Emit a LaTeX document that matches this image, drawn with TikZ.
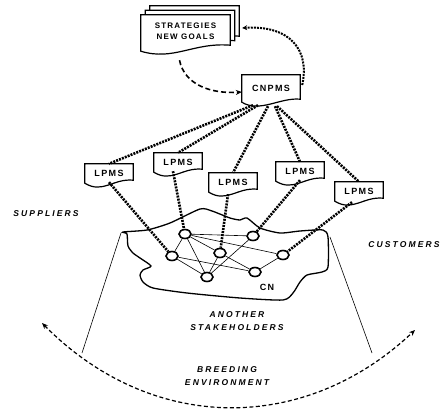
\documentclass[tikz,border=0pt]{standalone}
\usepackage{fontspec}
\usetikzlibrary{arrows.meta,shapes.geometric,backgrounds}
\newfontfamily\boxfont[LetterSpace=15]{Liberation Sans}
\newfontfamily\areafont[LetterSpace=25]{Liberation Sans}

\begin{document}
\begin{tikzpicture}[x=1pt,y=-1pt,
  font=\boxfont\bfseries\fontsize{9}{10}\selectfont,
  doc/.style={minimum width=48pt,minimum height=18pt,inner sep=0pt},
  area/.style={font=\areafont\bfseries\itshape\fontsize{8.5}{12.5}\selectfont,align=center},
  hub/.style={ellipse,draw,line width=1.6pt,fill=white,minimum width=12pt,minimum height=9pt,inner sep=0pt},
  link/.style={line width=2.6pt,dash pattern=on 2pt off 1.1pt},
  tie/.style={line width=0.6pt}]
  \useasboundingbox (0,0) rectangle (440,408);

  % plans and goals
  \node[doc,minimum width=89pt,minimum height=32pt,align=center,
    font=\boxfont\bfseries\fontsize{8}{10.5}\selectfont] (strat) at (185.5,31) {STRATEGIES\\NEW GOALS};
  \node[doc,minimum width=58pt,minimum height=26pt] (cnpms) at (271,88) {CNPMS};
  \node[doc] (l1) at (109,173) {LPMS};
  \node[doc] (l2) at (178,162) {LPMS};
  \node[doc] (l3) at (233,182) {LPMS};
  \node[doc] (l4) at (300,171) {LPMS};
  \node[doc] (l5) at (359,191) {LPMS};

  \begin{scope}[on background layer]
    \foreach \s in {9,4.5,0}
      \draw[line width=1.2pt,fill=white] ([shift={(\s,-\s)}]strat.north west) -- ([shift={(\s,-\s)}]strat.north east)
        -- ([shift={(\s,-\s)},yshift=2pt]strat.south east)
        .. controls ([shift={(\s,-\s)},xshift=-37pt,yshift=5pt]strat.south east)
        and ([shift={(\s,-\s)},xshift=33pt,yshift=-14pt]strat.south west)
        .. ([shift={(\s,-\s)},yshift=-4pt]strat.south west) -- cycle;
    \foreach \n in {l1,l2,l3,l4,l5,cnpms}
      \draw[line width=1.2pt,fill=white] (\n.north west) -- (\n.north east) -- ([yshift=2pt]\n.south east)
        .. controls ([xshift=-20pt,yshift=4pt]\n.south east) and ([xshift=18pt,yshift=-12pt]\n.south west)
        .. ([yshift=-1pt]\n.south west) -- cycle;
  \end{scope}

  % the network
  \draw[line width=1.3pt] plot[smooth cycle,tension=0.4] coordinates {
    (123,232) (147,230) (170,223) (200,209) (212,211) (230,218) (240,220) (247,218)
    (260,228) (280,233) (300,231) (323,230) (328,237) (328,267) (322,272) (307,275)
    (300,282) (293,293) (283,300) (240,298) (187,293) (153,288) (143,282) (140,275)
    (143,270) (151,266) (140,258) (133,253) (128,246) (127,234)};
  \node[hub] (n1) at (185,234) {};
  \node[hub] (n2) at (172,256) {};
  \node[hub] (n3) at (220,253) {};
  \node[hub] (n4) at (253,236) {};
  \node[hub] (n5) at (283,255) {};
  \node[hub] (n6) at (207,277) {};
  \node[hub] (n7) at (255,272) {};
  \foreach \a/\b in {n1/n2,n1/n4,n1/n6,n1/n3,n1/n5,n2/n6,n2/n7,n3/n6,n3/n7,n4/n6,n7/n5}
    \draw[tie] (\a) -- (\b);
  \node (cn) at (267,287) {CN};

  % management links
  \draw[link] ([xshift=-18pt,yshift=-4pt]cnpms.south) -- (l1.north);
  \draw[link] ([xshift=-13pt,yshift=-4pt]cnpms.south) -- (l2.north);
  \draw[link] ([xshift=-3pt,yshift=-5pt]cnpms.south) -- (l3.north);
  \draw[link] ([xshift=4pt,yshift=-5pt]cnpms.south) -- (l4.north);
  \draw[link] ([xshift=6pt,yshift=-5pt]cnpms.south) -- (l5.north);
  \draw[link] (l1.south) -- (n2);
  \draw[link] ([xshift=-5pt]l2.south) -- (n1);
  \draw[link] ([xshift=-5pt,yshift=-3pt]l3.south) -- (n3);
  \draw[link] (l4.south) -- (n4);
  \draw[link] ([xshift=-7pt,yshift=-2pt]l5.south) -- (n5);

  % feedback loop
  \draw[line width=1.6pt,dash pattern=on 5pt off 3pt,-{Stealth[length=6pt,width=5pt]}]
    ([xshift=-6pt,yshift=-13pt]strat.south) .. controls +(5,25) and +(-30,2) .. ([yshift=-4pt]cnpms.west);
  \draw[link,line width=2pt,-{Stealth[length=5pt,width=5pt]}]
    ([xshift=2pt,yshift=3pt]cnpms.east) .. controls (310,50) and (290,25) .. ([xshift=12pt,yshift=3pt]strat.east);

  % surroundings
  \coordinate (lt) at (121,233);
  \coordinate (lb) at (82,353);
  \coordinate (rt) at (330,237);
  \coordinate (rb) at (372,353);
  \draw[tie] (lt) -- (lb);
  \draw[tie] (rt) -- (rb);
  \coordinate (al) at (42,323);
  \coordinate (ar) at (415,330);
  \draw[line width=1.2pt,dash pattern=on 4pt off 2.5pt,{Stealth[length=6pt,width=5pt]}-{Stealth[length=6pt,width=5pt]}]
    (al) .. controls (152,434) and (305,434) .. (ar);

  \node[area] (sup) at (46,214) {SUPPLIERS};
  \node[area] (cus) at (404,245) {CUSTOMERS};
  \node[area] (oth) at (237,321) {ANOTHER\\STAKEHOLDERS};
  \node[area] (bre) at (227,376) {BREEDING\\ENVIRONMENT};
\end{tikzpicture}
\end{document}
